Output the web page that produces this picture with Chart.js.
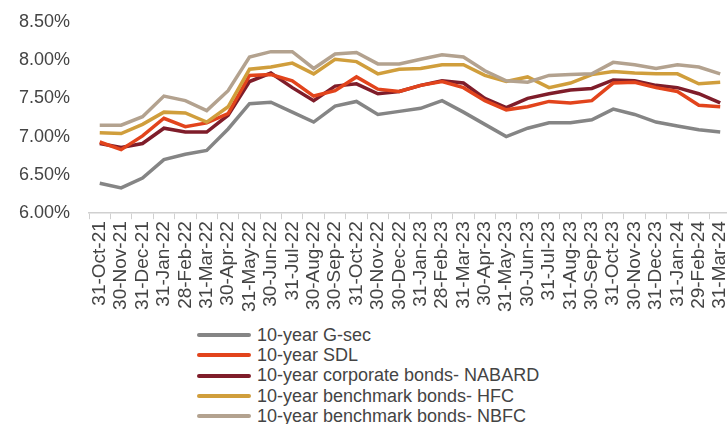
<!DOCTYPE html>
<html>
<head>
<meta charset="utf-8">
<script src="https://cdn.jsdelivr.net/npm/chart.js@4.4.1/dist/chart.umd.min.js"></script>
<style>
  body { margin: 0; background: #fff; font-family: "Liberation Sans", Arial, sans-serif; overflow: hidden; }
  #wrap { position: relative; width: 727px; height: 424px; overflow: hidden; }
  #legend { position: absolute; left: 197px; top: 325px; }
  .item { display: flex; align-items: center; height: 20.3px; font-size: 18px; color: #444; white-space: nowrap; }
  .swatch { width: 54px; height: 4px; border-radius: 2px; margin-right: 6px; }
</style>
</head>
<body>
<div id="wrap">
  <!-- canvas is a bit wider than the page so the plot runs to the right edge -->
  <canvas id="chart" width="745" height="318"></canvas>
  <div id="legend"></div>
</div>
<script>
// month-end dates
const dates = [
    '31-Oct-21', '30-Nov-21', '31-Dec-21', '31-Jan-22', '28-Feb-22', '31-Mar-22',
    '30-Apr-22', '31-May-22', '30-Jun-22', '31-Jul-22', '30-Aug-22', '30-Sep-22',
    '31-Oct-22', '30-Nov-22', '30-Dec-22', '31-Jan-23', '28-Feb-23', '31-Mar-23',
    '30-Apr-23', '31-May-23', '30-Jun-23', '31-Jul-23', '31-Aug-23', '30-Sep-23',
    '31-Oct-23', '30-Nov-23', '31-Dec-23', '31-Jan-24', '29-Feb-24', '31-Mar-24',
];

// yields in %
const gsec = [6.39, 6.33, 6.46, 6.70, 6.77, 6.82, 7.10, 7.43, 7.45, 7.32, 7.19, 7.40, 7.46, 7.29, 7.33,
    7.37, 7.47, 7.32, 7.16, 7.00, 7.11, 7.18, 7.18, 7.22, 7.36, 7.29, 7.19, 7.14, 7.09, 7.06];
const sdl = [6.93, 6.83, 7.01, 7.24, 7.13, 7.18, 7.30, 7.80, 7.81, 7.73, 7.53, 7.60, 7.78, 7.62, 7.59,
    7.67, 7.72, 7.64, 7.47, 7.35, 7.39, 7.46, 7.44, 7.47, 7.70, 7.71, 7.64, 7.59, 7.41, 7.39];
const nabard = [6.91, 6.86, 6.91, 7.11, 7.06, 7.06, 7.28, 7.72, 7.83, 7.64, 7.47, 7.66, 7.69, 7.56, 7.59,
    7.67, 7.73, 7.70, 7.50, 7.38, 7.50, 7.56, 7.61, 7.63, 7.74, 7.73, 7.67, 7.64, 7.56, 7.44];
const hfc = [7.05, 7.04, 7.16, 7.32, 7.31, 7.19, 7.39, 7.88, 7.91, 7.96, 7.82, 8.01, 7.98, 7.82, 7.88,
    7.89, 7.94, 7.94, 7.80, 7.72, 7.78, 7.64, 7.70, 7.81, 7.85, 7.83, 7.82, 7.82, 7.69, 7.71];
const nbfc = [7.15, 7.15, 7.26, 7.53, 7.47, 7.34, 7.60, 8.04, 8.11, 8.11, 7.89, 8.08, 8.10, 7.95, 7.95,
    8.01, 8.07, 8.04, 7.86, 7.73, 7.71, 7.80, 7.81, 7.82, 7.97, 7.94, 7.89, 7.94, 7.91, 7.82];

const seriesNames = [
    '10-year G-sec',
    '10-year SDL',
    '10-year corporate bonds- NABARD',
    '10-year benchmark bonds- HFC',
    '10-year benchmark bonds- NBFC',
];
const seriesColors = ['#858585', '#e2441c', '#7f1d2a', '#d09e3c', '#b3a28f'];
const seriesData = [gsec, sdl, nabard, hfc, nbfc];

const makeSet = (i) => ({
    label: seriesNames[i],
    data: seriesData[i],
    borderColor: seriesColors[i],
    backgroundColor: seriesColors[i],
    borderWidth: 3.5,
    pointRadius: 0,
    tension: 0,
});

// draw order: NBFC at the back, G-sec on top
const chart = new Chart(document.getElementById('chart'), {
    type: 'line',
    data: {
        labels: dates,
        datasets: [4, 3, 1, 2, 0].map(makeSet),
    },
    options: {
        responsive: false,
        animation: false,
        layout: {padding: {top: 12, left: 8, right: 0, bottom: 4}},
        plugins: {legend: {display: false}, tooltip: {enabled: false}},
        scales: {
            x: {
                offset: true,
                grid: {offset: true, drawOnChartArea: false, tickLength: 6, color: '#d0d0d0'},
                border: {color: '#d0d0d0', width: 1.5},
                ticks: {
                    autoSkip: false, maxRotation: 90, minRotation: 90, padding: 2,
                    color: '#444', font: {family: '"Liberation Sans", Arial, sans-serif', size: 19},
                },
            },
            y: {
                min: 6, max: 8.5,
                grid: {display: false},
                border: {display: false},
                ticks: {
                    stepSize: 0.5, padding: 11, color: '#444',
                    font: {family: '"Liberation Sans", Arial, sans-serif', size: 18},
                    callback: (v) => v.toFixed(2) + '%',
                },
            },
        },
    },
});

// legend in original series order
const legend = document.getElementById('legend');
seriesNames.forEach((name, i) => {
    const row = document.createElement('div');
    row.className = 'item';
    const sw = document.createElement('span');
    sw.className = 'swatch';
    sw.style.background = seriesColors[i];
    row.appendChild(sw);
    row.appendChild(document.createTextNode(name));
    legend.appendChild(row);
});
</script>
</body>
</html>
